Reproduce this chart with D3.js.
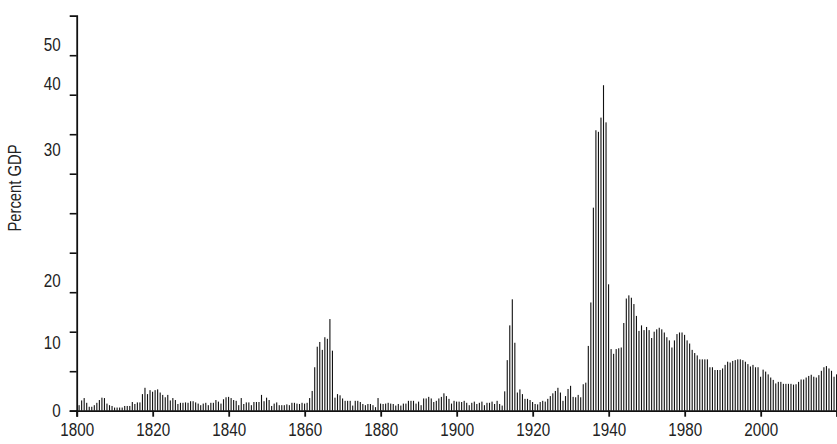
<!DOCTYPE html>
<html lang="en">
<head>
  <meta charset="UTF-8">
  <title>Percent GDP</title>
  <script src="https://d3js.org/d3.v7.min.js"></script>
  <style>
    body { margin: 0; background: #fff; }
    svg { display: block; }
    text { font-family: "Liberation Sans", Arial, sans-serif; font-size: 19px; fill: #222; }
  </style>
</head>
<body>
  <div id="chart"></div>
  <script>
    // one bar per step (percent of GDP)
    const values = [
      0.7, 1.3, 1.6, 1.0, 0.5, 0.5, 0.7, 1.0, 1.35, 1.65, 1.6, 0.9, 0.7, 0.6, 0.4, 0.4, 0.4, 0.4, 0.6, 0.6, 0.6, 1.1, 0.85, 1.05, 1.05, 2.1, 2.9, 2.1, 2.6, 2.4,
      2.6, 2.7, 2.3, 2.0, 1.7, 2.0, 1.3, 1.6, 1.35, 0.85, 1.0, 1.0, 1.05, 1.0, 1.2, 1.2, 1.05, 0.9, 0.7, 0.9, 1.0, 0.7, 1.0, 1.0, 1.35, 1.15, 0.9, 1.45, 1.7, 1.75,
      1.6, 1.35, 1.25, 0.7, 1.6, 0.85, 1.05, 1.05, 0.7, 1.1, 1.1, 1.1, 2.0, 1.2, 1.65, 1.35, 0.6, 0.9, 1.05, 0.7, 0.7, 0.7, 0.8, 0.7, 1.0, 1.0, 0.9, 0.85, 1.0, 0.9,
      1.0, 1.6, 2.5, 5.5, 8.1, 8.7, 7.7, 9.3, 9.1, 11.6, 7.6, 1.65, 2.1, 1.95, 1.55, 1.25, 1.25, 1.25, 0.65, 1.25, 1.25, 1.1, 0.85, 0.7, 0.85, 0.85, 0.7, 0.45, 1.6, 0.9,
      0.85, 0.9, 1.0, 0.9, 0.85, 0.65, 0.85, 0.65, 0.9, 0.9, 1.25, 1.25, 1.25, 0.9, 1.15, 0.7, 1.55, 1.55, 1.75, 1.55, 1.1, 1.25, 1.55, 1.75, 2.2, 1.85, 1.5, 0.9, 1.25, 1.15,
      1.15, 1.1, 1.25, 1.0, 0.7, 1.0, 1.15, 0.85, 1.0, 1.15, 0.7, 1.0, 1.0, 1.15, 0.85, 1.25, 0.85, 0.65, 2.45, 6.4, 10.8, 14.1, 8.6, 2.3, 2.7, 2.1, 1.5, 1.5, 1.35, 1.1,
      0.85, 0.8, 1.1, 1.25, 1.15, 1.5, 1.85, 2.2, 2.5, 2.9, 2.3, 1.25, 1.85, 2.75, 3.15, 1.75, 1.7, 2.0, 1.7, 3.35, 3.55, 8.2, 13.7, 25.7, 35.5, 35.3, 37.1, 41.2, 36.5, 16.0,
      7.8, 7.2, 7.8, 7.9, 8.0, 11.1, 14.2, 14.6, 14.3, 13.5, 12.0, 10.1, 10.8, 10.2, 10.6, 10.2, 9.2, 10.0, 10.3, 10.5, 10.3, 9.9, 9.3, 8.9, 8.0, 8.9, 9.7, 9.9, 9.9, 9.6,
      8.9, 8.5, 7.7, 7.3, 7.0, 6.5, 6.5, 6.5, 6.5, 5.5, 5.5, 5.15, 5.15, 5.15, 5.35, 5.8, 6.2, 6.1, 6.3, 6.4, 6.5, 6.5, 6.4, 6.2, 5.9, 5.6, 5.8, 5.5, 5.5, 4.3,
      5.2, 4.95, 4.6, 4.2, 3.9, 3.45, 3.65, 3.65, 3.4, 3.4, 3.4, 3.4, 3.3, 3.35, 3.65, 3.95, 3.95, 4.2, 4.4, 4.55, 4.3, 4.2, 4.5, 5.05, 5.5, 5.65, 5.35, 5.05, 4.3, 4.6
    ];

    // x ticks sit every 30 bars; their labels as printed on the chart
    const xTickSteps = d3.range(0, 301, 30);
    const xTickLabels = ['1800', '1820', '1840', '1860', '1880', '1900', '1920', '1940', '1980', '2000', ''];

    // y tick marks every 5, labels placed where the chart prints them
    const yTickValues = d3.range(0, 50, 5);
    const yLabelValues = [0, 8.6, 16.5, 33.1, 41.4, 46.4];
    const yLabels = ['0', '10', '20', '30', '40', '50'];

    const width = 837, height = 444;
    const padLeft = 76.7, padRight = 836.7, baseY = 410.7, topY = 15.7;
    const narrow = 0.8; // horizontal squeeze to get a condensed face

    const svg = d3.select('#chart').append('svg')
      .attr('width', width)
      .attr('height', height);

    const x = d3.scaleLinear().domain([0, 300]).range([padLeft, padRight]);
    const y = d3.scaleLinear().domain([0, 50]).range([baseY, topY]);

    // bars
    svg.append('g')
      .selectAll('rect')
      .data(values)
      .join('rect')
      .attr('x', (d, i) => x(i + 0.95) - 0.55)
      .attr('width', 1.1)
      .attr('y', d => y(d))
      .attr('height', d => y(0) - y(d))
      .attr('fill', '#111');

    // x axis
    const xAxis = svg.append('g')
      .attr('transform', `translate(0,${baseY})`)
      .call(d3.axisBottom(x)
        .tickValues(xTickSteps)
        .tickFormat((d, i) => xTickLabels[i])
        .tickSizeOuter(0)
        .tickSize(6)
        .tickPadding(6));
    xAxis.select('.domain').attr('stroke-width', 1.8).attr('stroke', '#111');
    xAxis.selectAll('.tick line').attr('stroke-width', 1.8).attr('stroke', '#111');
    xAxis.selectAll('text')
      .style('font-size', '19px').style('font-family', null).style('fill', '#222')
      .attr('transform', `scale(${narrow},1)`);

    // y axis: marks
    const yAxis = svg.append('g')
      .attr('transform', `translate(${padLeft},0)`)
      .call(d3.axisLeft(y)
        .tickValues(yTickValues)
        .tickFormat('')
        .tickSizeOuter(0)
        .tickSize(7));
    yAxis.select('.domain').attr('stroke-width', 1.8).attr('stroke', '#111');
    yAxis.selectAll('.tick line').attr('stroke-width', 1.6).attr('stroke', '#111');

    // y axis: labels
    const yLab = svg.append('g')
      .attr('transform', `translate(${padLeft},0)`)
      .call(d3.axisLeft(y)
        .tickValues(yLabelValues)
        .tickFormat((d, i) => yLabels[i])
        .tickSize(0)
        .tickPadding(16));
    yLab.select('.domain').remove();
    yLab.selectAll('text')
      .style('font-size', '19px').style('font-family', null).style('fill', '#222')
      .attr('x', -16 / narrow)
      .attr('transform', `scale(${narrow},1)`);

    svg.append('text')
      .attr('transform', `translate(15,188) rotate(-90) scale(${narrow},1)`)
      .attr('text-anchor', 'middle')
      .attr('dy', '0.35em')
      .style('font-size', '18.5px')
      .text('Percent GDP');
  </script>
</body>
</html>
